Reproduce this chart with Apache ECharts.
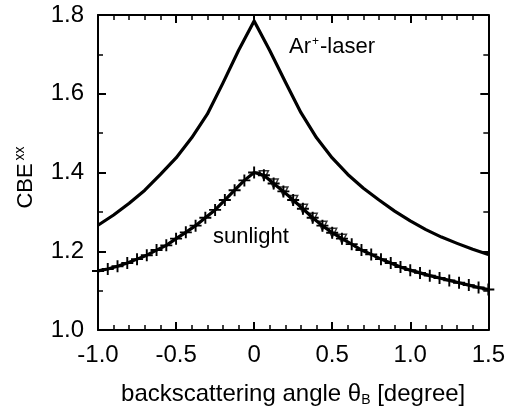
<!DOCTYPE html>
<html><head><meta charset="utf-8">
<script src="https://cdn.jsdelivr.net/npm/echarts@6/dist/echarts.min.js"></script>
<style>html,body{margin:0;padding:0;background:#fff}#c{width:508px;height:412px}</style>
</head><body><div id="c"></div>
<script>
// ---- data ----
const xTickLabels = ['-1.0', '-0.5', '0', '0.5', '1.0', '1.5'];
const yTickLabels = ['1.0', '1.2', '1.4', '1.6', '1.8'];

const laserX = [-1.0,-0.9,-0.8,-0.7,-0.6,-0.5,-0.4,-0.3,-0.2,-0.1,0,0.1,0.2,0.3,0.4,0.5,0.6,0.7,0.8,0.9,1.0,1.1,1.2,1.3,1.4,1.5];
const laserY = [1.266,1.292,1.322,1.355,1.395,1.437,1.488,1.548,1.627,1.71,1.785,1.71,1.63,1.552,1.488,1.437,1.395,1.36,1.33,1.302,1.277,1.255,1.236,1.220,1.205,1.192];

const sunX = [-1.0,-0.9375,-0.875,-0.8125,-0.75,-0.6875,-0.625,-0.5625,-0.5,-0.4375,-0.375,-0.3125,-0.25,-0.1875,-0.125,-0.0625,0,0.0625,0.125,0.1875,0.25,0.3125,0.375,0.4375,0.5,0.5625,0.625,0.6875,0.75,0.8125,0.875,0.9375,1.0,1.0625,1.125,1.1875,1.25,1.3125,1.375,1.4375,1.5];
const sunY = [1.150,1.155,1.162,1.170,1.180,1.190,1.203,1.215,1.232,1.248,1.265,1.285,1.305,1.330,1.355,1.380,1.400,1.393,1.372,1.352,1.330,1.308,1.285,1.265,1.247,1.232,1.218,1.203,1.192,1.180,1.170,1.160,1.152,1.145,1.138,1.132,1.126,1.120,1.114,1.108,1.103];

const triX = [0.0625,0.125,0.1875,0.25,0.3125,0.375,0.4375,0.5,0.5625];
const triY = [1.393,1.372,1.352,1.330,1.308,1.285,1.265,1.247,1.232];

// ---- chart ----
const FONT = 'Liberation Sans';
const zip = (a, b) => a.map((v, i) => [v, b[i]]);
const fmtX = v => { const i = Math.round((v + 1) / 0.5); return xTickLabels[i] ?? ''; };
const fmtY = v => { const i = Math.round((v - 1) / 0.2); return yTickLabels[i] ?? ''; };

const lineStyle = { color: '#000', width: 2 };
function xAx(pos, show) {
  return {
    type: 'value', position: pos, min: -1, max: 1.5, interval: 0.5,
    axisLine: { show: true, onZero: false, lineStyle },
    axisTick: { show: true, inside: true, length: 8, lineStyle: { color: '#000', width: 2 } },
    minorTick: { show: true, splitNumber: 5, length: 5, lineStyle: { color: '#000', width: 1.5 } },
    axisLabel: { show: show, formatter: fmtX, color: '#000', fontFamily: FONT, fontSize: 24, margin: 13 },
    splitLine: { show: false },
    name: show ? 'backscattering angle {g|θ}{sub|B} [degree]' : '',
    nameLocation: 'middle', nameGap: 51,
    nameTextStyle: { color: '#000', fontFamily: FONT, fontSize: 24,
      rich: { g: { fontFamily: FONT, fontSize: 24, color: '#000' },
              sub: { fontFamily: FONT, fontSize: 14, color: '#000', verticalAlign: 'bottom', padding: [12, 0, 0, 0] } } }
  };
}
function yAx(pos, show) {
  return {
    type: 'value', position: pos, min: 1.0, max: 1.8, interval: 0.2,
    axisLine: { show: true, onZero: false, lineStyle },
    axisTick: { show: true, inside: true, length: 8, lineStyle: { color: '#000', width: 2 } },
    minorTick: { show: true, splitNumber: 2, length: 5, lineStyle: { color: '#000', width: 1.5 } },
    axisLabel: { show: show, formatter: fmtY, color: '#000', fontFamily: FONT, fontSize: 24, margin: 14 },
    splitLine: { show: false },
    name: show ? '{a|CBE}{s|xx}' : '',
    nameLocation: 'middle', nameGap: 59, nameRotate: 90,
    nameTextStyle: { color: '#000', fontFamily: FONT, fontSize: 22, padding: [0, 10, 0, 0],
      rich: { a: { fontFamily: FONT, fontSize: 22, color: '#000' },
              s: { fontFamily: FONT, fontSize: 14, color: '#000', verticalAlign: 'top', padding: [0, 0, 12, 3] } } }
  };
}

const plusPath = 'path://M4.2,0H5.8V4.2H10V5.8H5.8V10H4.2V5.8H0V4.2H4.2Z';

const chart = echarts.init(document.getElementById('c'), null, { renderer: 'canvas' });
chart.setOption({
  animation: false,
  backgroundColor: '#fff',
  grid: { left: 98, right: 17, top: 15, bottom: 78, containLabel: false },
  xAxis: [xAx('bottom', true), xAx('top', false)],
  yAxis: [yAx('left', true), yAx('right', false)],
  series: [
    { type: 'line', name: 'Ar+-laser', data: zip(laserX, laserY), showSymbol: false, smooth: false,
      lineStyle: { color: '#000', width: 3.2, join: 'round' } },
    { type: 'line', name: 'sunlight', data: zip(sunX, sunY), smooth: false,
      symbol: plusPath, symbolSize: 12, showSymbol: true,
      itemStyle: { color: '#000' }, lineStyle: { color: '#000', width: 3.2, join: 'round' } },
    { type: 'scatter', name: 'sunlight2', data: zip(triX, triY),
      symbol: 'triangle', symbolRotate: 180, symbolSize: 9,
      itemStyle: { color: '#fff', borderColor: '#000', borderWidth: 1.5 } }
  ],
  graphic: [
    { type: 'text', left: 289, top: 36, style: { text: '{a|Ar}{s|+}{a|-laser}', fill: '#000',
      rich: { a: { fontFamily: FONT, fontSize: 22, fill: '#000' },
              s: { fontFamily: FONT, fontSize: 12, fill: '#000', verticalAlign: 'top', padding: [0, 1, 10, 1] } } } },
    { type: 'text', left: 213, top: 226, style: { text: 'sunlight', fill: '#000', font: '22px "Liberation Sans"' } }
  ]
});
</script></body></html>
